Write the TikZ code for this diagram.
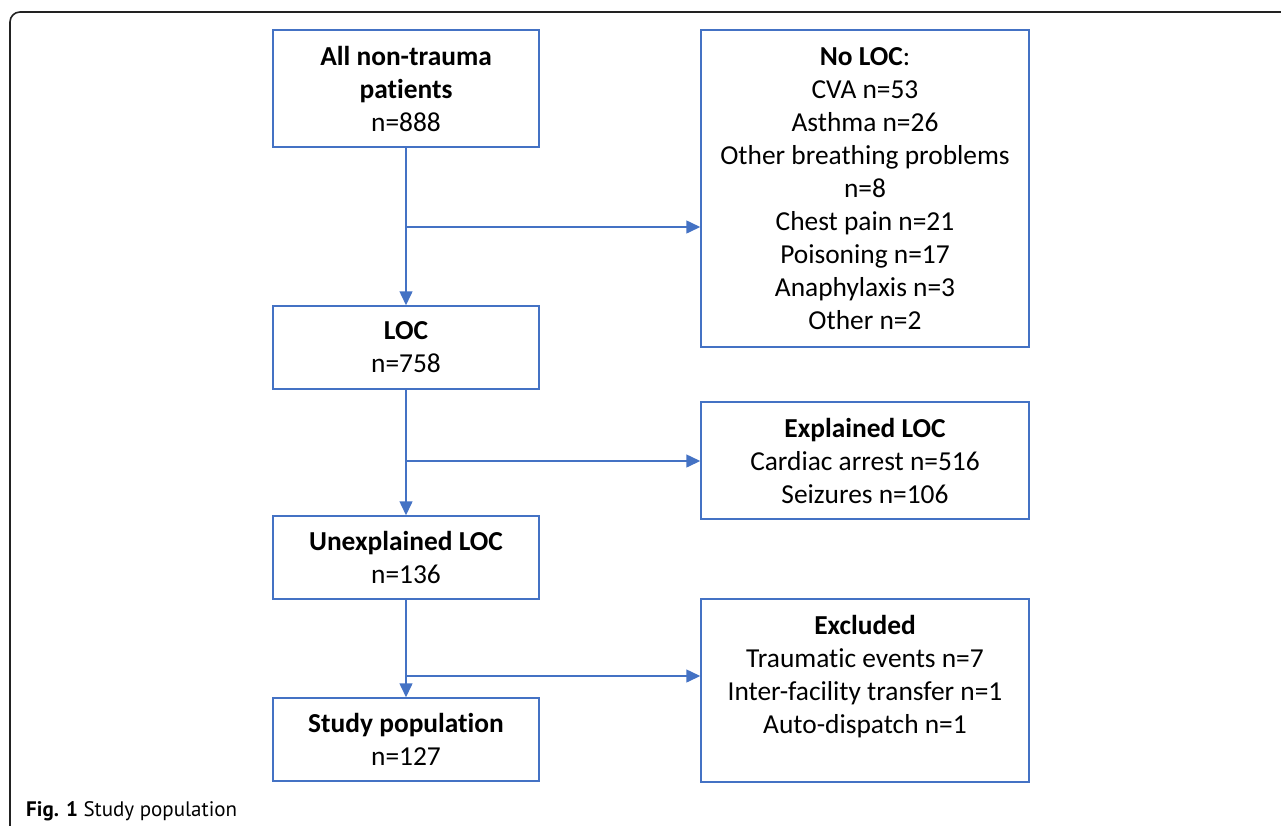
\documentclass[tikz,border=0pt]{standalone}
\usepackage{fontspec}
\setmainfont{Carlito}[Ligatures=NoCommon]
\newfontfamily\capfont{PT Sans}
\usetikzlibrary{arrows.meta}
\definecolor{boxblue}{HTML}{4472C4}
\definecolor{framegray}{HTML}{222222}
\begin{document}
\begin{tikzpicture}[x=1pt,y=-1pt,
  box/.style={draw=boxblue, line width=1.5pt, align=center, inner sep=0pt,
    font=\fontsize{27.4}{33}\selectfont},
  leftbox/.style={box, minimum width=266pt, minimum height=83pt},
  rightbox/.style={box, minimum width=328pt},
  flow/.style={draw=boxblue, line width=1.5pt, -{Triangle[length=14pt,width=13pt]}}
]
\useasboundingbox (0,0) rectangle (1281,825);
\draw[framegray, line width=1.6pt, rounded corners=10pt] (10,830) -- (10,12) -- (1290,12);

\node[leftbox, minimum height=117pt] (all) at (406,88.5)
  {\textbf{All non-trauma}\\\textbf{patients}\\n=888};
\node[rightbox, minimum height=317pt] (noloc) at (865,188.5)
  {\textbf{No LOC}:\\CVA n=53\\Asthma n=26\\Other breathing problems\\n=8\\Chest pain n=21\\Poisoning n=17\\Anaphylaxis n=3\\Other n=2};
\node[leftbox] (loc) at (406,347.5) {\textbf{LOC}\\n=758};
\node[rightbox, minimum height=117pt] (expl) at (865,460.5)
  {\textbf{Explained LOC}\\Cardiac arrest n=516\\Seizures n=106};
\node[leftbox] (unexpl) at (406,557.5) {\textbf{Unexplained LOC}\\n=136};
\node[rightbox, minimum height=183pt] (excl) at (865,690.5)
  {\textbf{Excluded}\\Traumatic events n=7\\Inter-facility transfer n=1\\Auto-dispatch n=1\\\mbox{}};
\node[leftbox] (study) at (406,739.5) {\textbf{Study population}\\n=127};

\coordinate (j1) at (406,227);
\coordinate (j2) at (406,461);
\coordinate (j3) at (406,676);

\draw[flow] (all.south) -- (loc.north);
\draw[flow] (loc.south) -- (unexpl.north);
\draw[flow] (unexpl.south) -- (study.north);
\draw[flow] (j1) -- (j1 -| noloc.west);
\draw[flow] (j2) -- (j2 -| expl.west);
\draw[flow] (j3) -- (j3 -| excl.west);

\node[anchor=base west, inner sep=0pt, font=\capfont\fontsize{21}{25}\selectfont] (cap) at (26,816)
  {\textbf{Fig. 1} Study population};
\end{tikzpicture}
\end{document}
